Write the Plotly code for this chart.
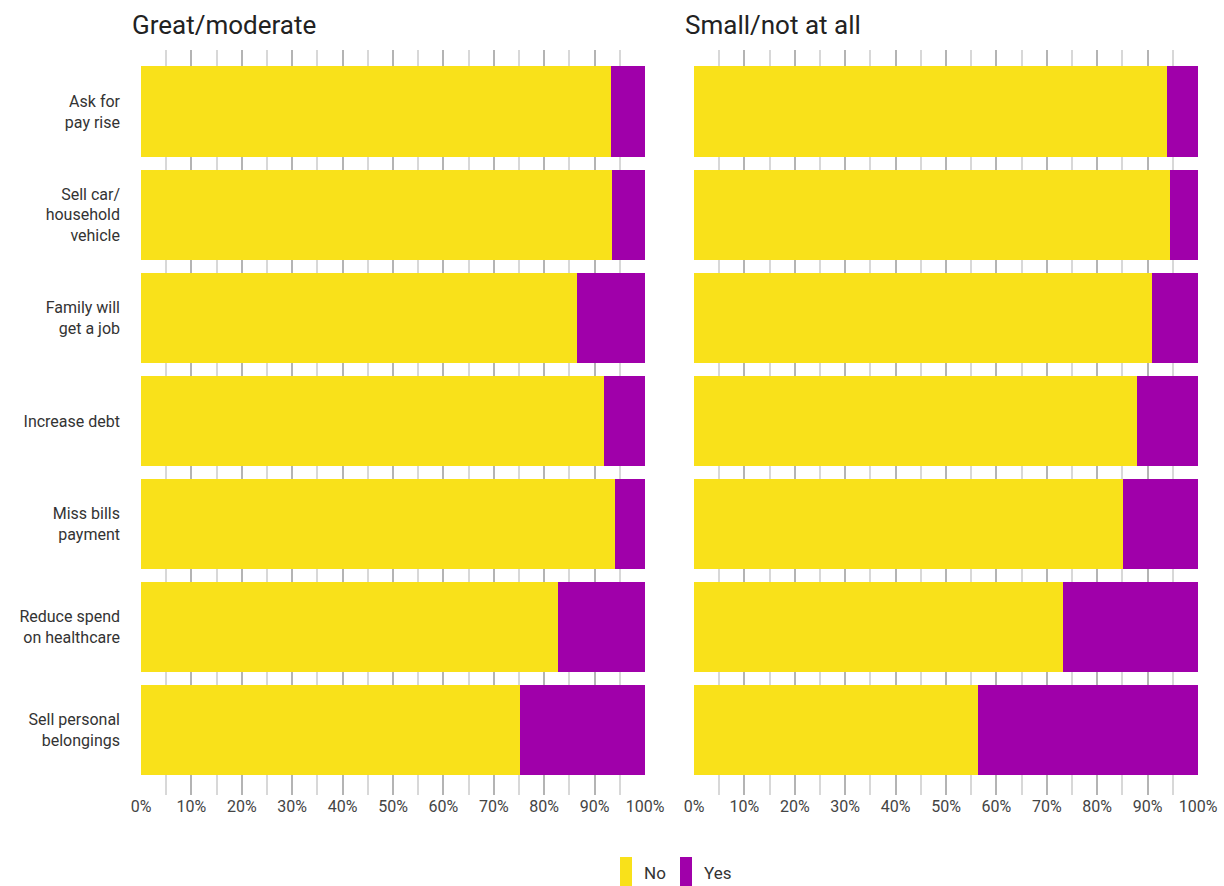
import plotly.graph_objects as go

categories = ["Ask for<br>pay rise", "Sell car/<br>household<br>vehicle", "Family will<br>get a job",
              "Increase debt", "Miss bills<br>payment", "Reduce spend<br>on healthcare",
              "Sell personal<br>belongings"]
panel_titles = ["Great/moderate", "Small/not at all"]
no_great = [93.3, 93.4, 86.5, 91.9, 94.0, 82.7, 75.2]
yes_great = [round(100 - v, 1) for v in no_great]
no_small = [93.8, 94.4, 90.9, 87.9, 85.1, 73.2, 56.3]
yes_small = [round(100 - v, 1) for v in no_small]
tick_vals = [0, 10, 20, 30, 40, 50, 60, 70, 80, 90, 100]
tick_text = [f"{v}%" for v in tick_vals]

YELLOW = "#F9E11A"
PURPLE = "#A000AA"
FONT = "Roboto"
W, H = 1224, 886

fig = go.Figure()
for i, (no, yes) in enumerate([(no_great, yes_great), (no_small, yes_small)]):
    xa = "x" if i == 0 else "x2"
    ya = "y" if i == 0 else "y2"
    fig.add_trace(go.Bar(y=categories, x=no, orientation="h", marker=dict(color=YELLOW, line_width=0),
                         name="No", xaxis=xa, yaxis=ya, showlegend=False))
    fig.add_trace(go.Bar(y=categories, x=yes, orientation="h", marker=dict(color=PURPLE, line_width=0),
                         name="Yes", xaxis=xa, yaxis=ya, showlegend=False))

ydom = [1 - 795 / H, 1 - 50 / H]
common_x = dict(range=[0, 100], tickvals=tick_vals, ticktext=tick_text, showgrid=True,
                gridcolor="#b4b4b4", gridwidth=2, zeroline=False, showline=False,
                ticks="", tickfont=dict(family=FONT, size=16, color="#444"), automargin=False,
                minor=dict(dtick=5, tick0=0, showgrid=True, gridcolor="#d8d8d8", gridwidth=1.5),
                fixedrange=True)
common_y = dict(autorange=False, range=[6.63, -0.6], showgrid=False, zeroline=False,
                showline=False, ticks="", domain=ydom, type="category", automargin=False,
                categoryorder="array", categoryarray=categories)

fig.update_layout(
    width=W, height=H, margin=dict(l=0, r=0, t=0, b=0),
    paper_bgcolor="white", plot_bgcolor="white",
    barmode="stack", bargap=0.12,
    font=dict(family=FONT, color="#333"),
    xaxis=dict(domain=[141 / W, 645 / W], anchor="y", **common_x),
    xaxis2=dict(domain=[694 / W, 1198 / W], anchor="y2", **common_x),
    yaxis=dict(anchor="x", showticklabels=True, ticklabelstandoff=20,
               tickfont=dict(family=FONT, size=16, color="#333"), **common_y),
    yaxis2=dict(anchor="x2", showticklabels=False, **common_y),
    showlegend=False,
)

# Panel titles
for title, x0 in zip(panel_titles, [130, 683]):
    fig.add_annotation(text=title, x=x0 / W, y=1 - 25 / H, xref="paper", yref="paper",
                       xanchor="left", yanchor="middle", showarrow=False,
                       font=dict(family=FONT, size=26, color="#222"))

# Legend (custom, tall swatches)
for label, color, x0 in [("No", YELLOW, 620), ("Yes", PURPLE, 680)]:
    fig.add_shape(type="rect", xref="paper", yref="paper", x0=x0 / W, x1=(x0 + 12) / W,
                  y0=0, y1=1 - 857 / H, fillcolor=color, line_width=0)
    fig.add_annotation(text=label, x=(x0 + 22) / W, y=1 - 873 / H, xref="paper", yref="paper",
                       xanchor="left", yanchor="middle", showarrow=False,
                       font=dict(family=FONT, size=17, color="#333"))

fig.write_html("out.html")
